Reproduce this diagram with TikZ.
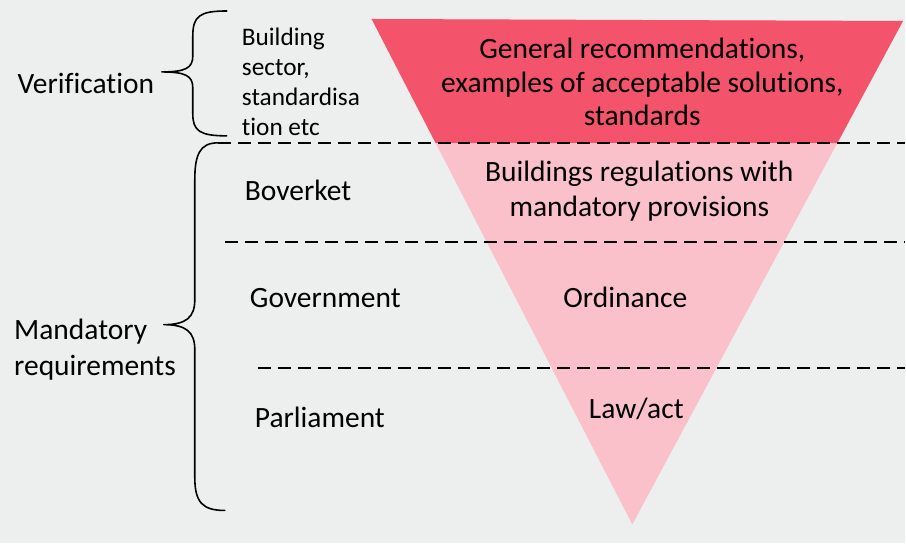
\documentclass[tikz,border=0pt]{standalone}
\usepackage{fontspec}
\setmainfont[Ligatures=NoCommon]{Carlito}
\usepackage{tikz}

\definecolor{bggray}{HTML}{EDEFEE}
\definecolor{topred}{HTML}{F4546B}
\definecolor{lowpink}{HTML}{FAC1CA}

\tikzset{
  big/.style={font=\fontsize{29.5}{35}\selectfont, inner sep=0pt},
  small/.style={font=\fontsize{25.3}{30}\selectfont, inner sep=0pt},
  level/.style={black, line width=2pt, dash pattern=on 13pt off 7pt},
  bracket/.style={black, line width=1.6pt, line cap=round, line join=round}
}

\begin{document}
\begin{tikzpicture}[x=1pt,y=-1pt]

  \fill[bggray] (0,0) rectangle (906,544);

  % the funnel
  \coordinate (tl) at (372,19);
  \coordinate (tr) at (904,21);
  \coordinate (tip) at (633,525);
  \fill[lowpink] (tl) -- (tr) -- (tip) -- cycle;
  \begin{scope}
    \clip (tl) -- (tr) -- (tip) -- cycle;
    \fill[topred] (360,0) rectangle (906,143);
  \end{scope}

  % levels
  \draw[level] (218,143) -- (906,143);
  \draw[level] (225,242) -- (906,242);
  \draw[level] (258,368) -- (906,368);

  % braces
  \draw[bracket] (227,11) .. controls (200,11) and (193,16) .. (193,36)
    -- (193,56) .. controls (193,68) and (186,72) .. (162,72)
    .. controls (186,72) and (193,76) .. (193,88)
    -- (193,114) .. controls (193,131) and (200,136) .. (227,136);
  \draw[bracket] (218,143) .. controls (200,143) and (195,155) .. (195,180)
    -- (195,300) .. controls (195,318) and (186,325) .. (164,325)
    .. controls (186,325) and (195,332) .. (195,350)
    -- (195,478) .. controls (195,503) and (203,511) .. (225,511);

  % left labels
  \node[big] (verif) at (86,84) {Verification};
  \node[big, anchor=west, align=left, font=\fontsize{29.5}{36}\selectfont] (mand) at (14,350) {Mandatory\\requirements};
  \node[small, anchor=west, align=left] (sector) at (242,82) {Building\\sector,\\standardisa\\tion etc};
  \node[big, anchor=west] (boverket) at (245,191) {Boverket};
  \node[big, anchor=west] (govt) at (250,298) {Government};
  \node[big, anchor=west] (parl) at (255,418) {Parliament};

  % funnel labels
  \node[big, align=center, font=\fontsize{29.5}{34}\selectfont] (gen) at (643,82)
    {General recommendations,\\examples of acceptable solutions,\\standards};
  \node[big, align=center] (bbr) at (640,191) {Buildings regulations with\\mandatory provisions};
  \node[big] (ord) at (626,298) {Ordinance};
  \node[big] (law) at (637,409) {Law/act};

\end{tikzpicture}
\end{document}
